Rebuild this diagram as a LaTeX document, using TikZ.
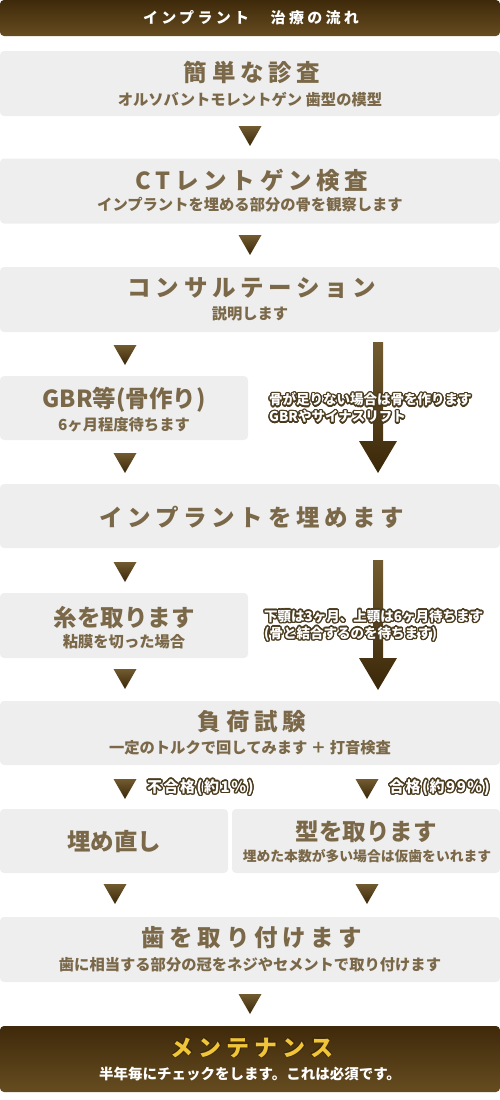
\documentclass[tikz,border=0pt]{standalone}
\usepackage{fontspec}
\setmainfont{Noto Sans CJK JP}
\newfontfamily\jpsp{Noto Sans CJK JP}[LetterSpace=20]
\newfontfamily\jphd{Noto Sans CJK JP}[LetterSpace=22]
\newfontfamily\jplb{Noto Sans CJK JP}[LetterSpace=10]
\usepackage{contour}
\contourlength{1.3pt}
\contournumber{20}
\definecolor{boxgray}{HTML}{EEEEEE}
\definecolor{titlec}{HTML}{7A6848}
\definecolor{hdrtop}{HTML}{3E290A}
\definecolor{hdrbot}{HTML}{664C20}
\definecolor{tritop}{HTML}{725B30}
\definecolor{tribot}{HTML}{3A2708}
\definecolor{annot}{HTML}{4A3A1E}
\definecolor{gold}{HTML}{F0C53A}
\newcommand\dtri[2]{\shade[top color=tritop,bottom color=tribot] (#1-11.5,#2) -- (#1+11.5,#2) -- (#1,#2+20) -- cycle;}
\newcommand\bigarr[3]{\shade[top color=tritop,bottom color=tribot] (#1-5,#2) -- (#1+5,#2) -- (#1+5,#3) -- (#1+19,#3) -- (#1,#3+32) -- (#1-19,#3) -- (#1-5,#3) -- cycle;}
\begin{document}
\begin{tikzpicture}[x=1pt,y=-1pt,
  gbox/.style={fill=boxgray,rounded corners=4pt,inner sep=0pt,minimum height=65pt},
  dbox/.style={top color=hdrtop,bottom color=hdrbot,rounded corners=4pt,inner sep=0pt},
  ttl/.style={text=titlec,font=\jpsp\bfseries\fontsize{23.5}{23.5}\selectfont,inner sep=0pt},
  ttln/.style={text=titlec,font=\bfseries\fontsize{23.5}{23.5}\selectfont,inner sep=0pt},
  sub/.style={text=titlec,font=\bfseries\fontsize{15.3}{15.3}\selectfont,inner sep=0pt},
  ann/.style={text=white,font=\bfseries\fontsize{13.5}{17}\selectfont,inner sep=0pt,align=left,anchor=west},
  lbl/.style={ann,font=\jplb\bfseries\fontsize{15}{17}\selectfont}]
\useasboundingbox (0,0) rectangle (500,1100);
% header
\node[dbox,minimum width=500pt,minimum height=36pt] (hdr) at (250,18) {};
\node[text=white,font=\jphd\bfseries\fontsize{15}{15}\selectfont,inner sep=0pt] (hdrt) at (251,18) {インプラント　治療の流れ};
% boxes
\node[gbox,minimum width=500pt] (b1) at (250,83.5) {};
\node[ttl] (b1t) at (252,72) {簡単な診査};
\node[sub] (b1s) at (250,100) {オルソバントモレントゲン 歯型の模型};
\dtri{250}{126}
\node[gbox,minimum width=500pt] (b2) at (250,191) {};
\node[ttl] (b2t) at (252,180) {CTレントゲン検査};
\node[sub] (b2s) at (250,205) {インプラントを埋める部分の骨を観察します};
\dtri{250}{235}
\node[gbox,minimum width=500pt] (b3) at (250,299.5) {};
\node[ttl] (b3t) at (252,288) {コンサルテーション};
\node[sub] (b3s) at (250,314) {説明します};
\dtri{125}{345}
\node[gbox,minimum width=248pt,minimum height=64pt] (b4) at (124,408) {};
\node[ttln] (b4t) at (124,400) {GBR等(骨作り)};
\node[sub] (b4s) at (124,425) {6ヶ月程度待ちます};
\dtri{125}{453}
\bigarr{378}{342}{441}
\node[ann] (a1) at (269,408.5) {\contour{annot}{骨が足りない場合は骨を作ります}\\\contour{annot}{GBRやサイナスリフト}};
\node[gbox,minimum width=500pt,minimum height=64pt] (b5) at (250,516) {};
\node[ttl] (b5t) at (252,517) {インプラントを埋めます};
\dtri{125}{562}
\node[gbox,minimum width=248pt] (b6) at (124,625.5) {};
\node[ttln] (b6t) at (124,617) {糸を取ります};
\node[sub] (b6s) at (124,642) {粘膜を切った場合};
\dtri{125}{669}
\bigarr{378}{560}{658}
\node[ann] (a2) at (264,626) {\contour{annot}{下顎は3ヶ月、上顎は6ヶ月待ちます}\\\contour{annot}{(骨と結合するのを待ちます)}};
\node[gbox,minimum width=500pt,minimum height=64pt] (b7) at (250,733) {};
\node[ttl] (b7t) at (252,722) {負荷試験};
\node[sub] (b7s) at (250,748) {一定のトルクで回してみます ＋ 打音検査};
\dtri{125}{779}
\dtri{367}{779}
\node[lbl] (l1) at (147,788) {\contour{annot}{不合格(約1\%)}};
\node[lbl] (l2) at (389,788) {\contour{annot}{合格(約99\%)}};
\node[gbox,minimum width=228pt,minimum height=64pt] (b8) at (114,841) {};
\node[ttln] (b8t) at (114,842) {埋め直し};
\node[gbox,minimum width=268pt,minimum height=64pt] (b9) at (366,841) {};
\node[ttln] (b9t) at (366,832) {型を取ります};
\node[sub,font=\bfseries\fontsize{13.8}{13.8}\selectfont] (b9s) at (367,856) {埋めた本数が多い場合は仮歯をいれます};
\dtri{115}{884}
\dtri{367}{884}
\node[gbox,minimum width=500pt] (b10) at (250,949.5) {};
\node[ttl] (b10t) at (252,938) {歯を取り付けます};
\node[sub] (b10s) at (250,965) {歯に相当する部分の冠をネジやセメントで取り付けます};
\dtri{250}{994}
\node[dbox,minimum width=500pt,minimum height=66pt] (b11) at (250,1059) {};
\node[text=gold,font=\jphd\bfseries\fontsize{23}{23}\selectfont,inner sep=0pt] (b11t) at (252,1048) {\contourlength{0.6pt}\contour{hdrtop}{メンテナンス}};
\node[text=white,font=\bfseries\fontsize{14.5}{14.5}\selectfont,inner sep=0pt] (b11s) at (250,1074) {半年毎にチェックをします。これは必須です。};
\end{tikzpicture}
\end{document}
